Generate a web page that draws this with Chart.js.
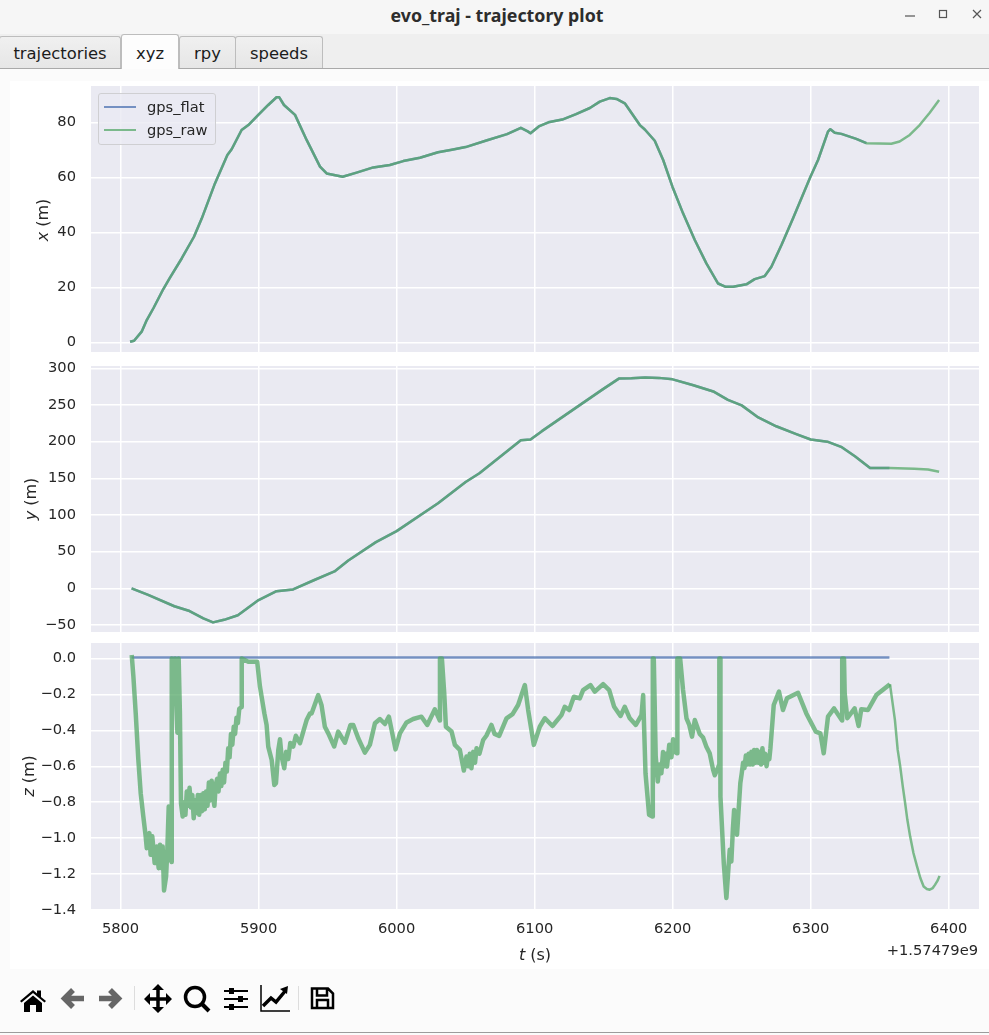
<!DOCTYPE html>
<html>
<head>
<meta charset="utf-8">
<title>evo_traj - trajectory plot</title>
<script src="https://cdn.jsdelivr.net/npm/chart.js@4/dist/chart.umd.min.js"></script>
<style>
html, body { margin: 0; padding: 0; }
body { width: 989px; height: 1035px; position: relative; overflow: hidden; background: #fbfbfb; font-family: "DejaVu Sans", sans-serif; color: #262626; }
.abs { position: absolute; }
#titlebar { left: 0; top: 0; width: 994px; height: 34px; background: #f6f6f6; text-align: center; line-height: 30px; font-family: "Noto Sans", sans-serif; font-weight: 700; font-size: 17.8px; color: #2d2d2d; }
#tabbar { left: 0; top: 34px; width: 989px; height: 34px; background: #efefef; border-bottom: 1px solid #a9a9a9; }
.tab { position: absolute; top: 36px; height: 32px; box-sizing: border-box; background: linear-gradient(#f0f0f0, #e6e6e6); border: 1px solid #bdbdbd; border-bottom: none; border-radius: 3px 3px 0 0; text-align: center; font-size: 16.4px; line-height: 34px; color: #1c1c1c; }
.tab.active { top: 34px; height: 35px; background: #fdfdfd; line-height: 38px; z-index: 2; }
#figure { left: 10px; top: 81px; width: 979px; height: 888px; background: #fff; }
canvas { position: absolute; }
.ylabel { position: absolute; font-size: 16px; white-space: nowrap; transform: translate(-50%, -50%) rotate(-90deg); }
#tlabel { left: 535px; top: 954px; transform: translate(-50%, -50%); font-size: 16px; white-space: nowrap; }
#offset { right: 11px; top: 941px; font-size: 14.67px; white-space: nowrap; }
#legend { left: 98px; top: 93px; width: 118px; height: 52px; box-sizing: border-box; background: rgba(234,234,242,0.8); border: 1px solid #cfcfd2; border-radius: 3px; z-index: 5; font-size: 14.67px; }
.legrow { position: absolute; left: 5px; height: 20px; line-height: 20px; white-space: nowrap; }
.legrow i { position: absolute; left: 0; top: 9px; width: 32px; height: 2px; }
.legrow span { position: absolute; left: 43px; top: 0; }
#toolbar { left: 0; top: 0; z-index: 6; }
#bottomline { left: 0; top: 1032px; width: 989px; height: 1px; background: #9c9c9c; }
</style>
</head>
<body>
<div class="abs" id="titlebar">evo_traj - trajectory plot</div>
<div class="abs" id="tabbar"></div>
<div class="tab" style="left:-1px;width:122px">trajectories</div>
<div class="tab active" style="left:121px;width:58px">xyz</div>
<div class="tab" style="left:179px;width:57px">rpy</div>
<div class="tab" style="left:235px;width:88px">speeds</div>
<div class="abs" id="figure"></div>
<canvas id="xChart" width="969" height="286" style="left:10px;top:76px"></canvas>
<canvas id="yChart" width="969" height="286" style="left:10px;top:356px"></canvas>
<canvas id="zChart" width="969" height="312" style="left:10px;top:633px"></canvas>
<div class="ylabel" style="left:42px;top:220px"><i>x</i> (m)</div>
<div class="ylabel" style="left:30px;top:499px"><i>y</i> (m)</div>
<div class="ylabel" style="left:28px;top:776px"><i>z</i> (m)</div>
<div class="abs" id="tlabel"><i>t</i> (s)</div>
<div class="abs" id="offset">+1.57479e9</div>
<div class="abs" id="legend"></div>
<div class="abs" id="bottomline"></div>
<svg class="abs" id="toolbar" width="989" height="1035">
  <g fill="none" stroke="#555" stroke-width="1.2">
    <path d="M905 16h10"/><rect x="939.5" y="10.5" width="7" height="7"/><path d="M973 10l8 8M981 10l-8 8"/>
  </g>
  <path fill="#000" d="M20 1001 33 990l4 3.5v-3h4v6.5l5 4-1.5 1.5L33 993l-11.5 9.5zM24 1003l9-7.5 9 7.5v9h-6v-7h-6v7h-6z"/>
  <g fill="none" stroke="#666" stroke-width="5.5">
    <path d="M84 998.5H66M73 990l-8.500 8.500 8.500 8.500"/>
    <path d="M99 998.500H117M110 990l8.500 8.500-8.500 8.500"/>
  </g>
  <path stroke="#ddd" d="M134.500 986v24M298.500 986v24" fill="none"/>
  <g fill="#000" stroke="#000">
    <path stroke-width="3.500" fill="none" d="M158 988v22M147 999h22"/>
    <path stroke="none" d="M158 984l6 6h-12zM158 1013l6-6h-12zM144 999l6-6v12zM172 999l-6-6v12z"/>
  </g>
  <g fill="none" stroke="#000">
    <circle cx="195" cy="997" r="9.500" stroke-width="3.500"/><path d="M202 1004l7 7" stroke-width="4"/>
    <path stroke-width="1.800" d="M224 991h24M224 999h24M224 1007h24"/>
    <path stroke-width="1.500" d="M261 985v26h29"/><path stroke-width="3.500" d="M263 1006l8-8 5 4 10-12"/>
    <path stroke-width="2.500" d="M312 988.500h16l5 5v14.500h-21zM317 988.500v7h10v-7M317 1008v-8h11v8"/>
  </g>
  <g fill="#000" stroke="none">
    <rect x="229" y="988" width="5" height="6"/><rect x="238" y="996" width="5" height="6"/><rect x="229" y="1004" width="5" height="6"/>
    <path d="M280 989l8-3-1 8z"/>
  </g>
</svg>

<script>
// x panel
const xTimes = [5806.9, 5809.8, 5815.3, 5819, 5823.8, 5831, 5835.4, 5844.3, 5853.2, 5858.8, 5868.4, 5877.4, 5880.5, 5887.7, 5892.6, 5899.8, 5907, 5913, 5915, 5918.4, 5926.4, 5934.8, 5944.5, 5949.3, 5960.9, 5971, 5983.1, 5995.1, 6004.8, 6016.9, 6030, 6040, 6050, 6065, 6080, 6090, 6095, 6097, 6103, 6110, 6120, 6130, 6140, 6147.2, 6154.4, 6159.3, 6165.3, 6176.2, 6179.8, 6187, 6193.1, 6199.8, 6207.5, 6216, 6224.4, 6232.9, 6238.4, 6243.8, 6253.4, 6259.4, 6266.7, 6271.5, 6278.8, 6287.2, 6299.8, 6305.3, 6312.5, 6314.2, 6317.4, 6322.2, 6333, 6340.3, 6358.4, 6364.4, 6371.7, 6378.9, 6386.2, 6393];
const xValues = [0.24, 0.6, 3.9, 8.1, 12.4, 19.4, 23.2, 30.5, 38.4, 45, 57.8, 68.1, 70.2, 77.2, 79, 82.7, 86.3, 89.1, 89.1, 86.3, 82.7, 73.6, 63.9, 61.4, 60.2, 61.7, 63.6, 64.5, 65.9, 67.1, 69.1, 70, 71, 73.4, 75.7, 78, 76.7, 76, 78.5, 80, 81, 83, 85.2, 87.5, 88.8, 88.5, 86.9, 79, 77.4, 73.3, 66.3, 56.6, 46.9, 37.2, 28.7, 21.4, 20.2, 20.2, 21.1, 23, 24.1, 27.5, 35.4, 45.1, 60.2, 66.3, 76.6, 77.5, 76.2, 75.8, 74, 72.4, 72.2, 73, 75.4, 79, 83.5, 88.1];

// y panel
const yTimes = [5808, 5820, 5839, 5850, 5860, 5867, 5875, 5885, 5900, 5913, 5925, 5940, 5955, 5965, 5985, 6000, 6030, 6050, 6060, 6090, 6097, 6105, 6149, 6161, 6170, 6180, 6190, 6200, 6215, 6230, 6240, 6250, 6262, 6275, 6290, 6300, 6312, 6322, 6332, 6343, 6357, 6375, 6385, 6393];
const yValues = [0, -9, -24.5, -31, -41, -46.5, -43, -36.8, -16, -4, -1.5, 11, 23, 38, 63, 78, 116, 145, 157, 202, 203, 214, 271, 286, 286.5, 287.5, 287, 285, 277, 268, 257, 249.5, 233, 221, 210, 203, 200, 193, 180, 164, 164, 163, 162, 159];

// z panel, raw height read stretch by stretch; the up and down steps follow the noisy band
const zTimes = [
    5808.1, 5809.3, 5811, 5812.9, 5814.6, 5816.5, 5818.2, 5819, 5820.9, 5821.8, 5823, 5824.7, 5826.2, 5827.6, 5828.6, 5829.6, 5830.5, 5831.5, 5833, 5833.9, 5834.9, 5835.8, 5837,
    5837.1, 5838.3, 5839.5, 5840.2, 5841.2, 5842.1, 5843, 5843.8,
    5845, 5846, 5847, 5848, 5849, 5850, 5851, 5852, 5853, 5854, 5855, 5856, 5857, 5858, 5859, 5860, 5861, 5862, 5863, 5864, 5865, 5866, 5867, 5868, 5869, 5870, 5871, 5872, 5873, 5874, 5875, 5876, 5877, 5878, 5879, 5880, 5881, 5882, 5883, 5884, 5885, 5886, 5887.7,
    5887.8, 5892.6, 5899, 5901, 5904.2, 5905.8, 5907, 5909.5, 5911.4, 5912.6, 5914.3, 5915.5, 5916.7, 5918.6, 5920, 5921.5, 5923, 5925.1, 5927, 5930, 5932, 5934.8, 5937.2,
    5938.4, 5943.2, 5945.6, 5948, 5950.5, 5954.8, 5957.7, 5962.5, 5966.6, 5968.6, 5972.2, 5977, 5980.6, 5984.3, 5987.9, 5991.5, 5994.4, 5999.2, 6002.4, 6007.2, 6012, 6018, 6022.2, 6027.7, 6031.3,
    6031.4, 6032.8, 6034.5, 6035.7, 6039.8, 6042.2, 6045.8, 6048.7, 6050.6, 6052, 6053, 6054.2, 6055.5, 6056.8, 6057.9, 6060, 6062.7, 6065, 6068.7, 6071, 6074.3, 6079.6, 6084, 6088, 6092.9, 6095.3, 6099.4,
    6103.7, 6107.4, 6112.9, 6119.4, 6121.8, 6125, 6128.4, 6132.7, 6135.1, 6140.4, 6143.6, 6149.6, 6154, 6157.6, 6162.2, 6165.3, 6168.9, 6173.3, 6177.4, 6178.6, 6180.3, 6182.9, 6185.3,
    6185.6, 6186.3, 6187.7, 6189.2, 6190.5, 6191.8, 6193, 6193.8, 6195, 6195.9, 6197.5, 6199.1, 6200.3, 6201.5, 6203.2,
    6203.4, 6205.4, 6207.5, 6210, 6212, 6214, 6216, 6219.6, 6222, 6224.4, 6226.8, 6229.3, 6230.5, 6233.6,
    6233.8, 6234.3, 6234.6, 6237, 6238.9, 6241.3, 6242.5, 6243.6, 6244.5, 6246.6, 6249,
    6250, 6251, 6252, 6253, 6254, 6255, 6256, 6257, 6258, 6259, 6260, 6261, 6262, 6263, 6264, 6265, 6266, 6267, 6268, 6269, 6270, 6270.8,
    6273.2, 6277, 6279.9, 6282.8, 6290.8, 6296.8, 6303.6, 6307, 6309.4, 6312.5, 6316.9, 6322.7, 6322.8, 6324.1, 6324.6, 6326.5, 6331.8, 6334.7, 6336.6, 6341.5, 6347.5, 6357.4,
    6361, 6363, 6364.8, 6366.7, 6368.4, 6370, 6372, 6374.4, 6377, 6379.4, 6381.8, 6384.1, 6386.2, 6388.4, 6390, 6392, 6393.3
];
const zValues = [
    0.019, -0.1, -0.306, -0.565, -0.75, -0.88, -0.99, -1.056, -0.972, -1.093, -0.99, -1.139, -1.046, -1.167, -1.037, -1.167, -1.046, -1.291, -1.213, -1.065, -0.824, -1.111, -1.133,
    0, -0.241, 0, -0.231, -0.413, 0, -0.3, -0.806,
    -0.88, -0.8, -0.87, -0.74, -0.82, -0.72, -0.83, -0.76, -0.89, -0.79, -0.86, -0.76, -0.87, -0.76, -0.85, -0.75, -0.84, -0.74, -0.82, -0.69, -0.79, -0.68, -0.77, -0.82, -0.7, -0.67, -0.74, -0.64, -0.71, -0.62, -0.69, -0.58, -0.63, -0.5, -0.55, -0.42, -0.48, -0.38, -0.42, -0.33, -0.36, -0.28, -0.27,
    0, -0.019, -0.019, -0.157, -0.306, -0.37, -0.491, -0.565, -0.704, -0.694, -0.509, -0.45, -0.546, -0.611, -0.52, -0.56, -0.47, -0.49, -0.43, -0.472, -0.417, -0.343, -0.306,
    -0.306, -0.204, -0.26, -0.38, -0.417, -0.49, -0.407, -0.469, -0.37, -0.37, -0.444, -0.524, -0.481, -0.361, -0.337, -0.365, -0.324, -0.506, -0.417, -0.356, -0.337, -0.324, -0.37, -0.283, -0.346,
    0, 0, -0.194, -0.38, -0.407, -0.481, -0.509, -0.624, -0.546, -0.6, -0.53, -0.611, -0.52, -0.58, -0.5, -0.53, -0.454, -0.43, -0.37, -0.42, -0.431, -0.333, -0.31, -0.259, -0.148, -0.287, -0.481,
    -0.38, -0.333, -0.376, -0.315, -0.269, -0.287, -0.213, -0.222, -0.176, -0.148, -0.185, -0.143, -0.176, -0.269, -0.32, -0.269, -0.333, -0.37, -0.315, -0.204, -0.639, -0.87, -0.88,
    0, 0, -0.546, -0.685, -0.59, -0.639, -0.52, -0.6, -0.53, -0.602, -0.48, -0.55, -0.45, -0.52, -0.528,
    0, 0, -0.176, -0.333, -0.37, -0.435, -0.343, -0.42, -0.44, -0.491, -0.528, -0.62, -0.65, -0.593,
    0, 0, -0.769, -1.139, -1.333, -1.065, -1.13, -0.95, -0.843, -0.981, -0.694,
    -0.64, -0.58, -0.61, -0.54, -0.59, -0.53, -0.59, -0.52, -0.59, -0.51, -0.58, -0.51, -0.58, -0.52, -0.59, -0.5, -0.58, -0.53, -0.6, -0.54, -0.56, -0.5,
    -0.259, -0.185, -0.287, -0.222, -0.191, -0.306, -0.407, -0.417, -0.528, -0.324, -0.278, -0.346, 0, 0, -0.194, -0.333, -0.278, -0.376, -0.283, -0.287, -0.204, -0.143,
    -0.343, -0.509, -0.6, -0.713, -0.806, -0.898, -0.99, -1.083, -1.157, -1.222, -1.269, -1.283, -1.287, -1.278, -1.26, -1.235, -1.21
];

// gps_flat stays at zero height, and stops where the raw track carries on alone
const zFlatTimes = [5808, 6357];
const zFlatValues = [0.005, 0.005];
const flatEndTime = 6357;

const seriesNames = ['gps_flat', 'gps_raw'];
const seriesColors = ['rgba(76,114,176,0.75)', 'rgba(85,168,104,0.75)'];

const tTicks = [5800, 5900, 6000, 6100, 6200, 6300, 6400];
const xTicks = [0, 20, 40, 60, 80];
const yTicks = [-50, 0, 50, 100, 150, 200, 250, 300];
const zTicks = [-1.4, -1.2, -1, -0.8, -0.6, -0.4, -0.2, 0];

const inkColor = '#262626';
const tickFont = { family: '"DejaVu Sans"', size: 14.67 };

const toPoints = (times, values) => times.map((t, i) => ({ x: t, y: values[i] }));

// plot background of the axes
const axesBackground = {
    id: 'axesBackground',
    beforeDraw(chart) {
        const a = chart.chartArea;
        chart.ctx.fillStyle = '#eaeaf2';
        chart.ctx.fillRect(a.left, a.top, a.width, a.height);
    }
};

// the z track is a noisy band while gps_flat runs, then a clean thin curve
const zSegmentWidth = c => c.p0.parsed.x >= flatEndTime ? 2.5 : 4.5;

function drawPanel(id, flatPoints, rawPoints, ticks, yMin, yMax, formatTick, showTimeLabels) {
    return new Chart(document.getElementById(id), {
        type: 'line',
        plugins: [axesBackground],
        data: {
            datasets: [
                // order: the raw track goes over the flat one
                { label: seriesNames[0], data: flatPoints, order: 2, borderColor: seriesColors[0], borderWidth: 2.5, borderJoinStyle: 'round', pointRadius: 0, tension: 0 },
                {
                    label: seriesNames[1], data: rawPoints, order: 1, borderColor: seriesColors[1], borderWidth: 2.5, borderJoinStyle: 'round', pointRadius: 0, tension: 0,
                    segment: id === 'zChart' ? { borderWidth: zSegmentWidth } : {}
                }
            ]
        },
        options: {
            responsive: false,
            animation: false,
            layout: { padding: { top: 10, bottom: showTimeLabels ? 0 : 10, left: 0, right: 0 } },
            plugins: { legend: { display: false }, tooltip: { enabled: false } },
            scales: {
                x: {
                    type: 'linear', min: 5778.6, max: 6421.9,
                    border: { display: false },
                    grid: { color: '#fff', lineWidth: 1.5, drawTicks: false },
                    ticks: { display: showTimeLabels, font: tickFont, color: inkColor, padding: 10, maxRotation: 0, callback: v => String(v) },
                    afterBuildTicks: s => { s.ticks = tTicks.map(v => ({ value: v })); },
                    afterFit: s => { s.height = showTimeLabels ? 35 : 0; s.paddingLeft = s.paddingRight = 0; }
                },
                y: {
                    min: yMin, max: yMax,
                    border: { display: false },
                    grid: { color: '#fff', lineWidth: 1.5, drawTicks: false },
                    ticks: { font: tickFont, color: inkColor, padding: 15, callback: formatTick },
                    afterBuildTicks: s => { s.ticks = ticks.map(v => ({ value: v })); },
                    afterFit: s => { s.width = 81; s.paddingTop = s.paddingBottom = 0; }
                }
            }
        }
    });
}

const withMinus = v => String(v).replace('-', '\u2212');
const oneDecimal = v => v.toFixed(1).replace('-', '\u2212');

const flatFrom = (times, values) => toPoints(times, values).filter(p => p.x <= flatEndTime);

drawPanel('xChart', flatFrom(xTimes, xValues), toPoints(xTimes, xValues), xTicks, -3.5, 93.2, withMinus, false);
drawPanel('yChart', flatFrom(yTimes, yValues), toPoints(yTimes, yValues), yTicks, -59.6, 303.2, withMinus, false);
drawPanel('zChart', toPoints(zFlatTimes, zFlatValues), toPoints(zTimes, zValues), zTicks, -1.4, 0.086, oneDecimal, true);

// legend box over the top panel
const legendBox = document.getElementById('legend');
seriesNames.forEach((name, i) => {
    const row = document.createElement('div');
    row.className = 'legrow';
    row.style.top = (3 + i * 23) + 'px';
    row.innerHTML = '<i style="background:' + seriesColors[i] + '"></i><span>' + name + '</span>';
    legendBox.appendChild(row);
});
</script>
</body>
</html>
